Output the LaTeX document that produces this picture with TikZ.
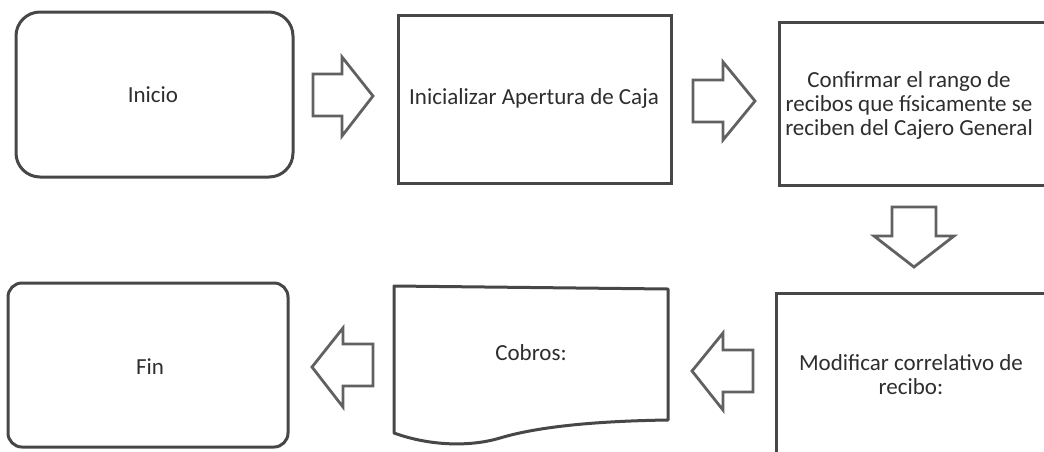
\documentclass[tikz,border=0pt]{standalone}
\usepackage{fontspec}
\setmainfont{Carlito}
\begin{document}
\begin{tikzpicture}[x=1pt,y=-1pt,
  edge/.style={draw=black!72, line width=3pt},
  termbox/.style={edge, fill=white, rounded corners=#1},
  procbox/.style={edge, fill=white},
  txt/.style={text=black!82, font=\fontsize{23}{24}\selectfont, align=center, inner sep=0pt},
  blockarrow/.style={draw=black!62, line width=2.8pt, fill=white, line join=miter}
]
\useasboundingbox (0,0) rectangle (1044,451);
\clip (0,0) rectangle (1044,451);
% boxes
\node[termbox=24pt, minimum width=277pt, minimum height=165pt] (inicio) at (154.5,94.5) {};
\node[txt] (iniciotxt) at (153,95) {Inicio};
\node[procbox, minimum width=273pt, minimum height=168pt] (inicializar) at (534.5,99) {};
\node[txt] (inicializartxt) at (534,98) {Inicializar Apertura de Caja};
\node[procbox, minimum width=290pt, minimum height=163pt, anchor=north west] (confirmar) at (778,21) {};
\node[txt] (confirmartxt) at (909,105) {Confirmar el rango de\\recibos que físicamente se\\reciben del Cajero General};
\node[procbox, minimum width=290pt, minimum height=170pt, anchor=north west] (modificar) at (775,292) {};
\node[txt] (modificartxt) at (911,375) {Modificar correlativo de\\recibo:};
\node[termbox=14pt, minimum width=280pt, minimum height=164pt] (fin) at (148,365) {};
\node[txt] (fintxt) at (150,367) {Fin};
% document shape
\draw[edge, fill=white, line join=round] (394,286) -- (668,289) -- (668,420)
  .. controls (600,421) and (540,426) .. (500,438)
  .. controls (470,447) and (430,446) .. (394,433) -- cycle;
\node[txt] (cobros) at (531,353) {Cobros:};
% block arrows
\draw[blockarrow] (313,74) -- (342,74) -- (342,57) -- (373,96) -- (342,136) -- (342,116) -- (313,116) -- cycle;
\draw[blockarrow] (693,80) -- (723,80) -- (723,62) -- (755,101) -- (723,140) -- (723,122) -- (693,122) -- cycle;
\draw[blockarrow] (892,207) -- (936,207) -- (936,236) -- (954,236) -- (914,267) -- (874,236) -- (892,236) -- cycle;
\draw[blockarrow] (753,350) -- (723,350) -- (723,333) -- (692,371) -- (723,410) -- (723,392) -- (753,392) -- cycle;
\draw[blockarrow] (373,344) -- (343,344) -- (343,328) -- (312,367) -- (343,407) -- (343,386) -- (373,386) -- cycle;
\end{tikzpicture}
\end{document}
